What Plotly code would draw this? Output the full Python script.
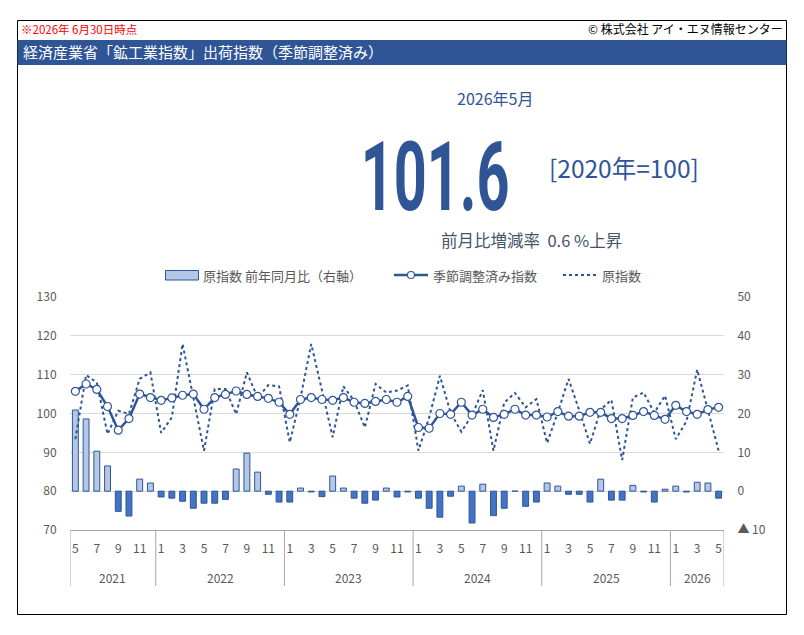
import plotly.graph_objects as go

# ---------------- data ----------------
start_year, start_month = 2021, 5
sa_index = [105.7, 107.6, 106.2, 101.8, 95.7, 98.7, 105.0, 104.1,
            103.4, 104.0, 104.7, 105.0, 101.1, 104.1, 104.9, 105.8, 104.9, 104.4, 103.9, 102.9,
            99.8, 103.6, 104.1, 103.6, 103.4, 104.1, 102.9, 102.6, 103.1, 103.6, 102.9, 104.4,
            96.4, 96.2, 100.0, 99.8, 102.9, 99.6, 101.1, 99.0, 99.8, 101.1, 99.6, 99.6,
            99.1, 100.5, 99.3, 99.3, 100.3, 100.3, 98.7, 98.7, 99.5, 100.5, 99.5, 98.5,
            102.1, 100.5, 99.8, 101.0, 101.6]
raw_index = [93.4, 109.9, 108.0, 94.7, 100.7, 99.9, 108.9, 110.6,
             95.0, 99.0, 117.9, 104.0, 90.4, 106.3, 106.3, 99.8, 110.6, 104.1, 107.3, 107.0,
             92.6, 104.0, 117.9, 106.0, 93.9, 107.0, 103.3, 96.4, 107.6, 105.4, 105.9, 107.2,
             90.4, 99.0, 109.7, 100.2, 95.3, 99.6, 106.0, 90.4, 102.8, 105.3, 101.6, 103.7,
             92.4, 100.3, 108.9, 100.8, 92.2, 101.0, 103.5, 88.0, 104.1, 105.4, 100.2, 104.6,
             93.4, 98.0, 111.3, 100.9, 90.4]
yoy_raw = [20.9, 18.6, 10.3, 6.5, -5.2, -6.4, 3.1, 2.1,
           -1.5, -1.8, -2.6, -4.4, -3.1, -3.1, -2.1, 5.7, 9.8, 4.9, -0.8, -2.8,
           -2.8, 0.8, -0.2, -1.4, 3.9, 0.8, -1.8, -3.1, -2.3, 0.8, -1.5, -0.2,
           -1.8, -4.4, -6.7, -1.3, 1.3, -8.2, 1.8, -6.3, -4.4, 0.0, -3.9, -2.8,
           2.1, 1.3, -0.8, -0.8, -2.8, 3.1, -2.3, -2.3, 1.5, -0.2, -2.8, 0.5,
           1.3, -0.2, 2.3, 2.1, -1.8]
left_ticks = [70, 80, 90, 100, 110, 120, 130]
right_ticks = [-10, 0, 10, 20, 30, 40, 50]
right_tick_text = ["▲ 10", "0", "10", "20", "30", "40", "50"]

latest_label = "2026年5月"
latest_value = "101.6"
base_label = "[2020年=100]"
mom_label = "前月比増減率  0.6 %上昇"

# ---------------- derived ----------------
n = len(sa_index)
xs = list(range(n))
months = [((start_month - 1 + i) % 12) + 1 for i in xs]
years = [start_year + (start_month - 1 + i) // 12 for i in xs]

BLUE = "#2F5597"
LIGHT = "#B4C7E7"
MID = "#4472C4"
GRAY = "#595959"
FONT = "Noto Sans CJK JP, Noto Sans, sans-serif"

# plot area in pixels
PX0, PX1, PY0, PY1 = 70, 724, 297, 530


def px(x):
    return (x - PX0) / (PX1 - PX0)


def py(y):
    return (PY1 - y) / (PY1 - PY0)


fig = go.Figure()

fig.add_trace(go.Bar(
    x=xs, y=yoy_raw, yaxis="y", width=0.55,
    marker=dict(color=[LIGHT if v >= 0 else MID for v in yoy_raw],
                line=dict(color=BLUE, width=1)),
    showlegend=False, hoverinfo="skip"))
fig.add_trace(go.Scatter(
    x=xs, y=raw_index, yaxis="y2", mode="lines",
    line=dict(color=BLUE, width=2, dash="dot"),
    showlegend=False, hoverinfo="skip"))
fig.add_trace(go.Scatter(
    x=xs, y=sa_index, yaxis="y2", mode="lines+markers",
    line=dict(color=BLUE, width=2.5),
    marker=dict(symbol="circle", size=8, color="white", line=dict(color=BLUE, width=1.2)),
    showlegend=False, hoverinfo="skip"))

tick_idx = [i for i in xs if months[i] % 2 == 1]

fig.update_layout(
    width=804, height=635,
    margin=dict(l=PX0, r=804 - PX1, t=PY0, b=635 - PY1, pad=0),
    paper_bgcolor="white", plot_bgcolor="white",
    font=dict(family=FONT, color=GRAY, size=12),
    bargap=0.4,
    xaxis=dict(range=[-0.5, n - 0.5], tickmode="array", tickvals=tick_idx,
               ticktext=[str(months[i]) for i in tick_idx],
               showgrid=False, zeroline=False, showline=True, linecolor="#A6A6A6", linewidth=1,
               ticks="outside", ticklen=8, tickcolor="rgba(0,0,0,0)",
               tickfont=dict(size=12, color=GRAY, family=FONT), fixedrange=True),
    yaxis=dict(side="right", range=[-10, 50], tickmode="array", tickvals=right_ticks,
               ticktext=right_tick_text, showgrid=True, gridcolor="#D9D9D9", gridwidth=1,
               zeroline=False, showline=False,
               ticks="outside", ticklen=10, tickcolor="rgba(0,0,0,0)",
               tickfont=dict(size=12, color=GRAY, family=FONT)),
    yaxis2=dict(side="left", overlaying="y", range=[70, 130], tickmode="array",
                tickvals=left_ticks, showgrid=False, zeroline=False, showline=False,
                ticks="outside", ticklen=10, tickcolor="rgba(0,0,0,0)",
                tickfont=dict(size=12, color=GRAY, family=FONT)),
)

shapes = []
# outer frame
shapes.append(dict(type="rect", xref="paper", yref="paper", x0=px(17.5), x1=px(786.5),
                   y0=py(614.5), y1=py(20.5), line=dict(color="black", width=1),
                   fillcolor="rgba(0,0,0,0)", layer="below"))
# title band
shapes.append(dict(type="rect", xref="paper", yref="paper", x0=px(17.5), x1=px(786.5),
                   y0=py(65), y1=py(40), line=dict(width=0), fillcolor=BLUE, layer="below"))
# year separators
bounds = [-0.5] + [i - 0.5 for i in xs if i > 0 and years[i] != years[i - 1]] + [n - 0.5]
for b in bounds:
    shapes.append(dict(type="line", xref="x", yref="paper", x0=b, x1=b,
                       y0=0, y1=py(586), line=dict(color="#A6A6A6", width=1)))

# legend swatches
ly = py(275)
shapes.append(dict(type="rect", xref="paper", yref="paper", x0=px(165.5), x1=px(198.5),
                   y0=py(280), y1=py(270.5), fillcolor=LIGHT, line=dict(color=BLUE, width=1)))
shapes.append(dict(type="line", xref="paper", yref="paper", x0=px(394), x1=px(428),
                   y0=ly, y1=ly, line=dict(color=BLUE, width=2.5)))
shapes.append(dict(type="circle", xref="paper", yref="paper", x0=px(407.5), x1=px(414.5),
                   y0=py(278.5), y1=py(271.5), fillcolor="white", line=dict(color=BLUE, width=1.2)))
shapes.append(dict(type="line", xref="paper", yref="paper", x0=px(563), x1=px(598),
                   y0=ly, y1=ly, line=dict(color=BLUE, width=2, dash="dot")))
fig.update_layout(shapes=shapes)

ann = []


def text(x, y, s, size, color=GRAY, xanchor="left", family=FONT, **kw):
    ann.append(dict(x=px(x), y=py(y), xref="paper", yref="paper", text=s, showarrow=False,
                    xanchor=xanchor, yanchor="middle",
                    font=dict(size=size, color=color, family=family), **kw))


text(19, 29, "※2026年 6月30日時点", 11.5, color="#FF0000")
text(785, 29, "© 株式会社 アイ・エヌ情報センター", 12, color="black", xanchor="right")
text(21, 52, "経済産業省「鉱工業指数」出荷指数（季節調整済み）", 15, color="white")
text(495, 98, latest_label, 16, color=BLUE, xanchor="center")
text(435, 177, "<b>" + latest_value + "</b>", 96, color=BLUE, xanchor="center",
     family="Roboto, Liberation Sans, sans-serif")
text(624, 168, base_label, 24.5, color=BLUE, xanchor="center")
text(531, 240, mom_label, 16.5, color="#44546A", xanchor="center")
# legend texts
text(201, 275, "原指数 前年同月比（右軸）", 13)
text(431, 275, "季節調整済み指数", 13)
text(600, 275, "原指数", 13)
# year labels
for yv in sorted(set(years)):
    idx = [i for i in xs if years[i] == yv]
    c = (idx[0] + idx[-1]) / 2
    ann.append(dict(x=c, y=py(577), xref="x", yref="paper", text=str(yv), showarrow=False,
                    xanchor="center", yanchor="middle", font=dict(size=12, color=GRAY, family=FONT)))
fig.update_layout(annotations=ann)

post = """
document.querySelectorAll('text.annotation-text').forEach(function(t){
  if (t.textContent.trim() === '101.6') {
    t.style.transformBox = 'fill-box';
    t.style.transformOrigin = 'center';
    t.style.transform = 'scaleX(0.6)';
  }
});
"""
fig.write_html("out.html", post_script=post)
